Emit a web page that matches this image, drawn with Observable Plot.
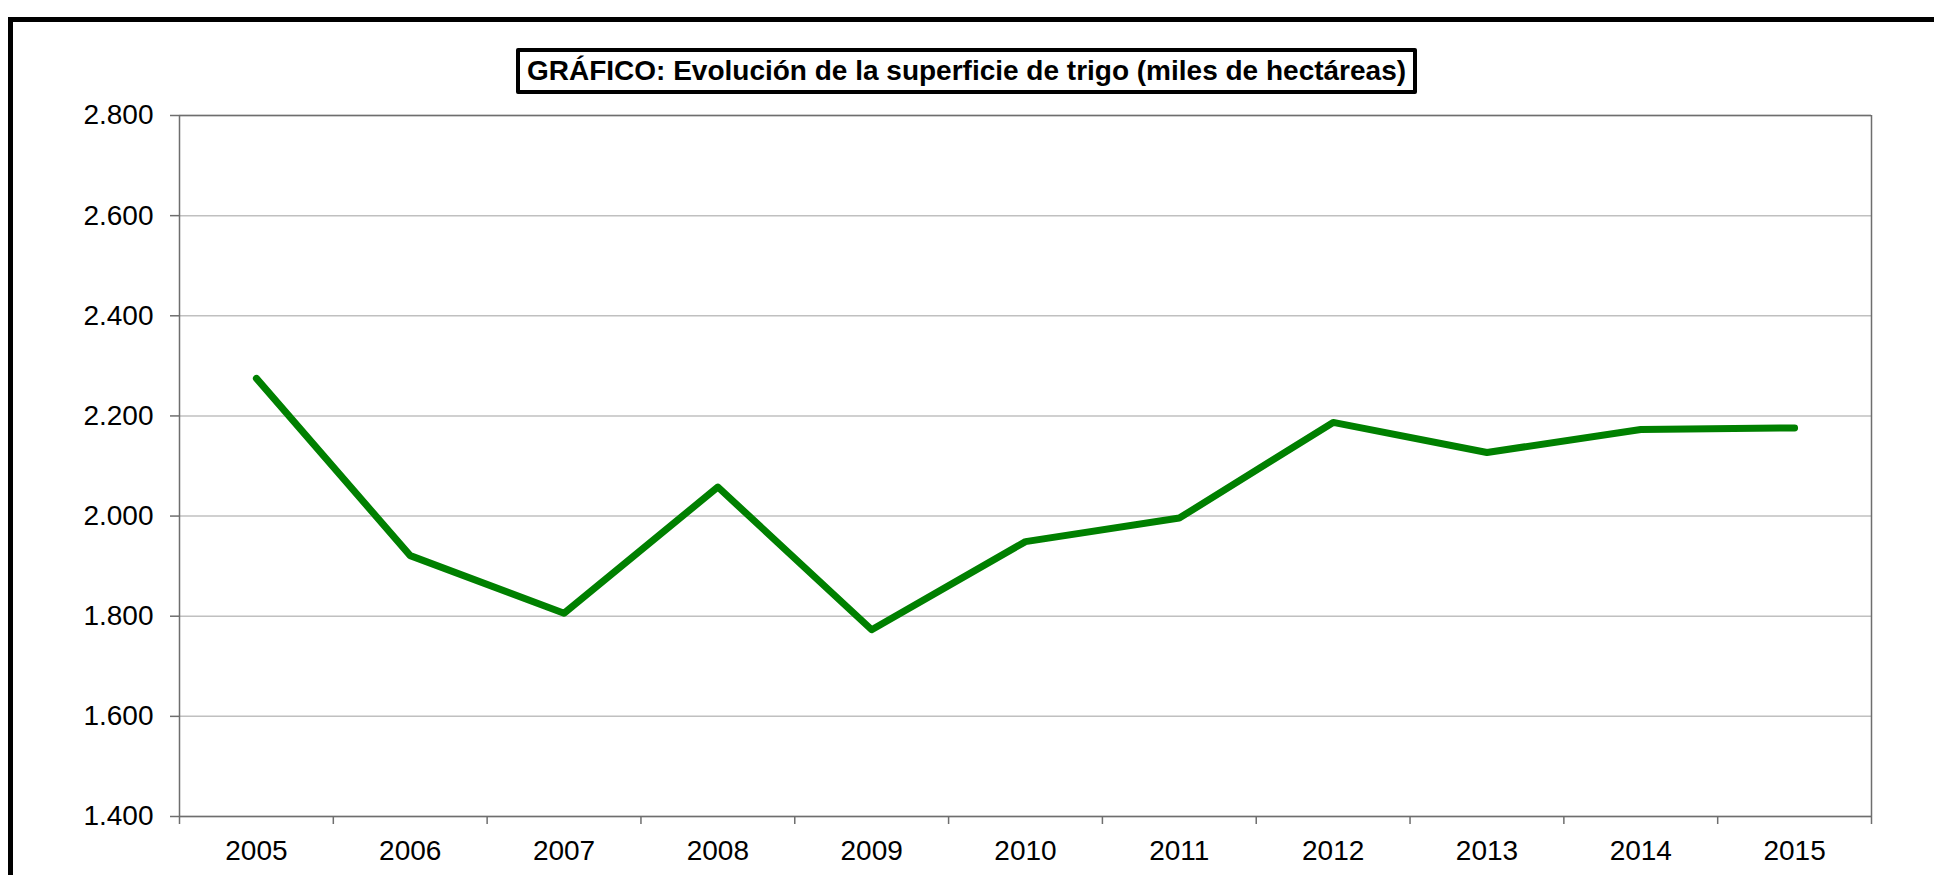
<!DOCTYPE html>
<html>
<head>
<meta charset="utf-8">
<script src="https://cdn.jsdelivr.net/npm/d3@7"></script>
<script src="https://cdn.jsdelivr.net/npm/@observablehq/plot@0.6"></script>
<style>
  html, body { margin: 0; padding: 0; background: #fff; overflow: hidden; }
  #wrap { position: relative; width: 1934px; height: 875px; overflow: hidden; font-family: "Liberation Sans", Arial, sans-serif; }
  #frame { position: absolute; left: 8px; top: 17px; width: 2100px; height: 1100px; border: 5px solid #000; box-sizing: border-box; }
  #title { position: absolute; left: 516px; top: 48px; width: 901px; height: 46px; box-sizing: border-box;
           border: 4px solid #000; border-radius: 2px; background: #fff; font-weight: bold; font-size: 28px;
           line-height: 38px; text-align: center; color: #000; white-space: nowrap; }
  #chart { position: absolute; left: 0; top: 0; }
</style>
</head>
<body>
<div id="wrap">
  <div id="frame"></div>
  <div id="chart"></div>
  <div id="title">GRÁFICO: Evolución de la superficie de trigo (miles de hectáreas)</div>
</div>
<script>
const years = [2005, 2006, 2007, 2008, 2009, 2010, 2011, 2012, 2013, 2014, 2015];
const superficie = [2275, 1921, 1806, 2058, 1773, 1949, 1996, 2187, 2127, 2173, 2176];
const yTicks = [1400, 1600, 1800, 2000, 2200, 2400, 2600, 2800];

const data = years.map((y, i) => ({year: y, value: superficie[i]}));
const boundaries = years.map(y => y - 0.5).concat([years[years.length - 1] + 0.5]);
const fmt = d3.formatLocale({decimal: ",", thousands: ".", grouping: [3], currency: ["", " €"]}).format(",");

const chart = Plot.plot({
  width: 1934,
  height: 875,
  marginLeft: 179,
  marginRight: 63,
  marginTop: 115,
  marginBottom: 59,
  style: {fontFamily: "'Liberation Sans', Arial, sans-serif", fontSize: "28px", color: "#000", background: "transparent", overflow: "visible"},
  x: {domain: [boundaries[0], boundaries[boundaries.length - 1]]},
  y: {domain: [yTicks[0], yTicks[yTicks.length - 1]]},
  marks: [
    Plot.gridY(yTicks, {stroke: "#c0c0c0", strokeOpacity: 1, strokeWidth: 1.5}),
    Plot.ruleY([yTicks[yTicks.length - 1]], {stroke: "#6e6e6e", strokeWidth: 1.5}),
    Plot.ruleX([boundaries[boundaries.length - 1]], {stroke: "#6e6e6e", strokeWidth: 1.5}),
    Plot.axisY(yTicks, {tickSize: 9, tickPadding: 17, tickFormat: fmt, stroke: "#6e6e6e", strokeWidth: 1.5, fill: "#000", label: null}),
    Plot.ruleX([boundaries[0]], {stroke: "#6e6e6e", strokeWidth: 1.5}),
    Plot.ruleY([yTicks[0]], {stroke: "#6e6e6e", strokeWidth: 1.5}),
    Plot.axisX(boundaries, {tickSize: 8, tickFormat: () => "", stroke: "#6e6e6e", strokeWidth: 1.5, label: null}),
    Plot.axisX(years, {tickSize: 0, tickPadding: 24, tickFormat: d => String(d), fill: "#000", label: null}),
    Plot.line(data, {x: "year", y: "value", stroke: "#008000", strokeWidth: 7, strokeLinecap: "round", strokeLinejoin: "round"})
  ]
});
document.getElementById("chart").appendChild(chart);
</script>
</body>
</html>
